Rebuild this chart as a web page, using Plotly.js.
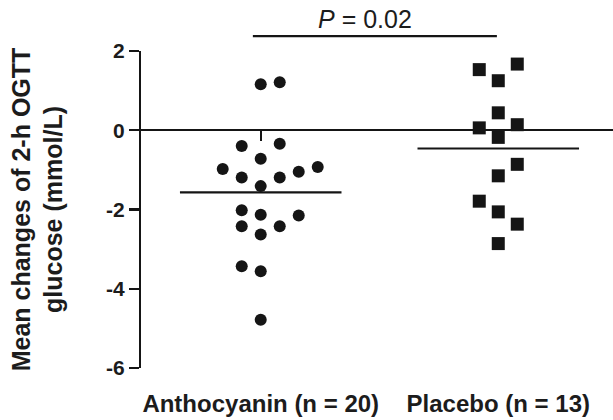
<!DOCTYPE html>
<html>
<head>
<meta charset="utf-8">
<script src="https://cdn.plot.ly/plotly-3.0.1.min.js"></script>
<style>html,body{margin:0;padding:0;background:#fff;}#chart{width:613px;height:420px;}</style>
</head>
<body>
<div id="chart"></div>
<script>
// Categories and labels
const categories = ["Anthocyanin (n = 20)", "Placebo (n = 13)"];

// Anthocyanin group: change values (mmol/L) and their scatter column slot
const anthoValues = [1.16, 1.21, -0.40, -0.34, -0.72, -0.98, -1.19, -1.19, -1.05, -0.93,
                     -1.41, -2.02, -2.13, -2.15, -2.42, -2.42, -2.63, -3.43, -3.56, -4.78];
const anthoSlots  = [0, 1, -1, 1, 0, -2, -1, 1, 2, 3,
                     0, -1, 0, 2, -1, 1, 0, -1, 0, 0];

// Placebo group
const placeboValues = [1.53, 1.67, 1.25, 0.44, 0.06, 0.14, -0.18, -0.86, -1.15, -1.79, -2.06, -2.37, -2.86];
const placeboSlots  = [-1, 1, 0, 0, -1, 1, 0, 1, 0, -1, 0, 1, 0];

// Group means (horizontal lines)
const means = [-1.57, -0.46];

// Annotation text
const pText = "<i>P</i> = 0.02";

const slotWidth = 0.08;
const meanHalf = 0.34;
const yTicks = [2, 0, -2, -4, -6];

const anthoX = anthoSlots.map(s => 0 + s * slotWidth);
const placeboX = placeboSlots.map(s => 1 + s * slotWidth);

const ink = '#151515';
const fam = 'Liberation Sans, Arial, sans-serif';
const traces = [
  {
    type: 'scatter', mode: 'lines', xaxis: 'x2', yaxis: 'y',
    x: [0 - meanHalf, 0 + meanHalf], y: [means[0], means[0]],
    line: {color: ink, width: 2.2}, hoverinfo: 'skip', showlegend: false
  },
  {
    type: 'scatter', mode: 'lines', xaxis: 'x2', yaxis: 'y',
    x: [1 - meanHalf, 1 + meanHalf], y: [means[1], means[1]],
    line: {color: ink, width: 2.2}, hoverinfo: 'skip', showlegend: false
  },
  {
    type: 'scatter', mode: 'markers', name: categories[0],
    x: anthoX, y: anthoValues,
    marker: {symbol: 'circle', size: 12, color: ink, line: {width: 0}},
    showlegend: false, cliponaxis: false
  },
  {
    type: 'scatter', mode: 'markers', name: categories[1],
    x: placeboX, y: placeboValues,
    marker: {symbol: 'square', size: 13, color: ink, line: {width: 0}},
    showlegend: false, cliponaxis: false
  }
];

const xRange = [-0.504, 1.483];
const layout = {
  width: 613, height: 420,
  margin: {l: 141, r: 0, t: 51, b: 52},
  paper_bgcolor: '#ffffff', plot_bgcolor: '#ffffff',
  font: {family: fam, color: '#1c1c1c'},
  showlegend: false,
  xaxis: {
    range: xRange, tickvals: [0, 1], ticktext: categories,
    showline: false, showgrid: false, zeroline: false, ticks: '',
    tickfont: {size: 24, family: fam, weight: 'bold', color: '#1c1c1c'},
    ticklabelstandoff: 19, fixedrange: true
  },
  xaxis2: {
    overlaying: 'x', matches: 'x', anchor: 'free', position: 0.75, side: 'bottom',
    range: xRange, tickvals: [0, 1], showticklabels: false,
    showline: true, linecolor: ink, linewidth: 2.2,
    ticks: 'outside', ticklen: 10, tickwidth: 2.2, tickcolor: ink,
    showgrid: false, zeroline: false
  },
  yaxis: {
    range: [-6, 2], tickvals: yTicks, ticktext: yTicks.map(String),
    showline: true, linecolor: ink, linewidth: 2.2,
    ticks: 'outside', ticklen: 10, tickwidth: 2.2, tickcolor: ink,
    showgrid: false, zeroline: false,
    tickfont: {size: 21, family: fam, weight: 'bold', color: '#1c1c1c'},
    title: {
      text: 'Mean changes of 2-h OGTT<br>glucose (mmol/L)',
      font: {size: 25, family: fam, weight: 'bold', color: '#1c1c1c'},
      standoff: 36
    }
  },
  shapes: [
    {type: 'line', xref: 'paper', yref: 'paper', x0: 0.237, x1: 0.754, y0: 1.047, y1: 1.047,
     line: {color: ink, width: 2.2}}
  ],
  annotations: [
    {xref: 'paper', yref: 'paper', x: 0.475, y: 1.10, text: pText, showarrow: false,
     font: {size: 25, family: fam, color: '#1c1c1c'},
     xanchor: 'center', yanchor: 'middle'}
  ]
};

Plotly.newPlot('chart', traces, layout, {displayModeBar: false, staticPlot: true});
</script>
</body>
</html>
